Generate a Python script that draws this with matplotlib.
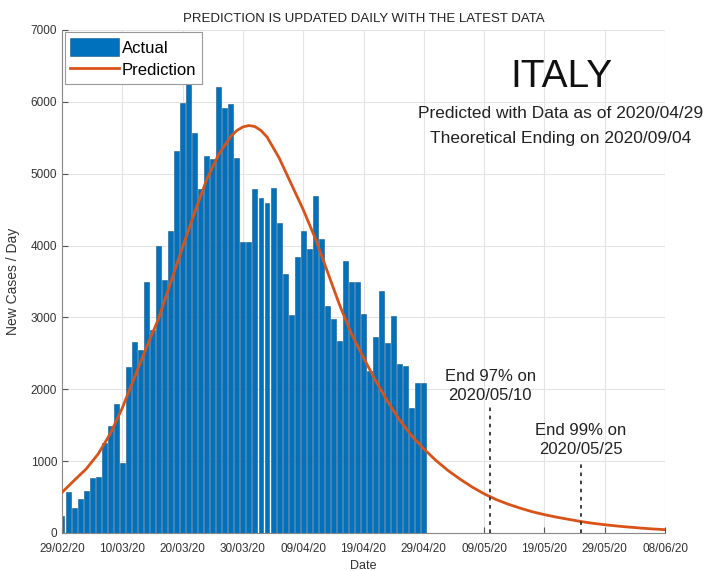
"""
Daily new COVID-19 cases in Italy (bars) with the fitted prediction curve,
plus the estimated 97% / 99% end dates.
"""
import matplotlib.pyplot as plt
import matplotlib.dates as mdates
import pandas as pd

plt.rcParams['font.family'] = ['Liberation Sans', 'DejaVu Sans']

# actual daily new cases, 29/02/20 .. 29/04/20
start = '2020-02-29'
actual = [238, 566, 342, 466, 587, 769, 778, 1247, 1492, 1797,
          977, 2313, 2651, 2547, 3497, 2824, 4000, 3526, 4207, 5322,
          5986, 6557, 5560, 4789, 5249, 5210, 6203, 5909, 5974, 5217,
          4050, 4053, 4782, 4668, 4585, 4805, 4316, 3599, 3039, 3836,
          4204, 3951, 4694, 4092, 3153, 2972, 2667, 3786, 3493, 3491,
          3047, 2256, 2729, 3370, 2646, 3021, 2357, 2324, 1739, 2091,
          2086]

# prediction curve (days after 29/02/20, new cases / day)
pred_day = [0, 2, 4, 6, 8, 10, 12, 14, 16, 18,
            20, 22, 24, 26, 28, 29, 30, 31, 32, 33,
            34, 36, 38, 40, 42, 44, 46, 48, 50, 52,
            54, 56, 58, 60, 62, 64, 66, 68, 70, 72,
            74, 76, 78, 80, 82, 84, 86, 88, 90, 92,
            94, 96, 98, 100]
pred_val = [565, 730, 890, 1100, 1380, 1740, 2160, 2580, 2980, 3480,
            3980, 4460, 4920, 5270, 5520, 5600, 5650, 5670, 5655, 5600,
            5510, 5220, 4860, 4500, 4100, 3640, 3180, 2770, 2440, 2120,
            1830, 1570, 1350, 1170, 1010, 870, 750, 640, 545, 465,
            400, 345, 295, 255, 220, 190, 160, 135, 115, 97,
            82, 68, 56, 46]

# end-of-epidemic markers: date, height of dashed line, label
end_dates = ['2020-05-10', '2020-05-25']
end_heights = [1750, 1000]
end_labels = ['End 97% on\n2020/05/10', 'End 99% on\n2020/05/25']

tick_dates = pd.date_range('2020-02-29', '2020-06-08', freq='10D')

dates = pd.date_range(start, periods=len(actual), freq='D')
pred_dates = pd.Timestamp(start) + pd.to_timedelta(pred_day, unit='D')

fig = plt.figure(figsize=(7.07, 5.71), dpi=100)
ax = fig.add_axes([0.0877, 0.0666, 0.8529, 0.881])

bars = ax.bar(dates, actual, width=0.82, color='#0072BD', edgecolor='#1d5a8c',
              linewidth=0.4, label='Actual', zorder=2)
line, = ax.plot(pred_dates, pred_val, color='#D95319', linewidth=2,
                label='Prediction', zorder=3)

for d, h, lab in zip(end_dates, end_heights, end_labels):
    d = pd.Timestamp(d)
    ax.plot([d, d], [0, h], color='#333333', linestyle=(0, (2, 2.5)),
            linewidth=1.3, zorder=4)
    ax.text(d, h + 60, lab, ha='center', va='bottom', fontsize=12,
            color='#222222', linespacing=1.3)

ax.set_xlim(pd.Timestamp('2020-02-29'), pd.Timestamp('2020-06-08'))
ax.set_ylim(0, 7000)
ax.set_xticks(tick_dates)
ax.xaxis.set_major_formatter(mdates.DateFormatter('%d/%m/%y'))
ax.set_yticks(range(0, 7001, 1000))
ax.tick_params(direction='in', length=4, labelsize=8.5, colors='#555555',
               labelcolor='#333333')
ax.tick_params(axis='x', pad=7)
ax.grid(color='#e3e3e3', linewidth=0.8, zorder=0)
ax.set_axisbelow(True)
for s in ['top', 'right']:
    ax.spines[s].set_visible(False)
for s in ['left', 'bottom']:
    ax.spines[s].set_color('#888888')

ax.set_xlabel('Date', fontsize=9, color='#333333', labelpad=4)
ax.set_ylabel('New Cases / Day', fontsize=10, color='#333333', labelpad=8)
ax.set_title('PREDICTION IS UPDATED DAILY WITH THE LATEST DATA',
             fontsize=9.5, color='#222222', pad=6)

ax.text(0.8275, 0.906, 'ITALY', transform=ax.transAxes, ha='center',
        va='center', fontsize=28, color='#111111')
ax.text(0.8275, 0.833, 'Predicted with Data as of 2020/04/29',
        transform=ax.transAxes, ha='center', va='center', fontsize=12.5,
        color='#222222')
ax.text(0.8275, 0.785, 'Theoretical Ending on 2020/09/04',
        transform=ax.transAxes, ha='center', va='center', fontsize=12.5,
        color='#222222')

leg = ax.legend([bars, line], ['Actual', 'Prediction'], loc='upper left',
                fontsize=12, frameon=True, fancybox=False, framealpha=1,
                borderaxespad=0.15, handlelength=2.9, handleheight=1.25,
                borderpad=0.35, labelspacing=0.3, handletextpad=0.2)
leg.get_frame().set_edgecolor('#999999')
leg.get_frame().set_linewidth(0.8)

fig.savefig('out.png', dpi=100)
